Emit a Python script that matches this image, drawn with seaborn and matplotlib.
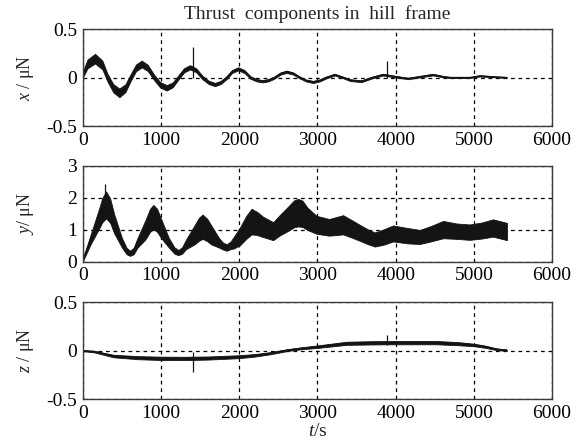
#!/usr/bin/env python3
"""
Thrust components in hill frame - three stacked panels (seaborn + matplotlib)
Usage: python plot.py
"""

import matplotlib
matplotlib.use("Agg")
import matplotlib.pyplot as plt
import matplotlib.ticker as mticker
import seaborn as sns
import pandas as pd

# ---- data (time in s, thrust in uN) ----
t_x = [0, 60, 157, 250, 315, 390, 468, 545, 612, 680, 753, 830, 913, 990,
       1073, 1150, 1222, 1295, 1370, 1450, 1530, 1610, 1690, 1765, 1840,
       1910, 1987, 2065, 2145, 2220, 2299, 2375, 2450, 2530, 2605, 2690,
       2775, 2860, 2945, 3030, 3110, 3222, 3330, 3420, 3563, 3700, 3840,
       3990, 4160, 4320, 4478, 4600, 4700, 4950, 5074, 5200, 5420]
x_mid = [0.03, 0.14, 0.195, 0.13, 0.0, -0.11, -0.158, -0.11, 0.0, 0.10,
         0.14, 0.10, 0.0, -0.075, -0.106, -0.075, 0.0, 0.075, 0.106, 0.075,
         0.0, -0.05, -0.072, -0.05, 0.0, 0.063, 0.09, 0.063, 0.0, -0.027,
         -0.038, -0.027, 0.0, 0.042, 0.06, 0.042, 0.0, -0.032, -0.045,
         -0.03, 0.0, 0.03, 0.0, -0.027, -0.038, 0.0, 0.03, 0.01, -0.01,
         0.01, 0.03, 0.01, 0.0, 0.0, 0.017, 0.01, 0.0]
x_band = [0.03, 0.045, 0.05, 0.045, 0.04, 0.042, 0.045, 0.04, 0.035, 0.035,
          0.035, 0.032, 0.028, 0.028, 0.028, 0.025, 0.022, 0.022, 0.022,
          0.02, 0.018, 0.017, 0.017, 0.016, 0.015, 0.015, 0.016, 0.015,
          0.013, 0.012, 0.012, 0.012, 0.011, 0.011, 0.012, 0.011, 0.01,
          0.01, 0.011, 0.01, 0.009, 0.009, 0.008, 0.009, 0.009, 0.008,
          0.009, 0.008, 0.007, 0.007, 0.008, 0.007, 0.005, 0.004, 0.006,
          0.005, 0.004]

t_y = [0, 100, 200, 250, 298, 350, 400, 500, 560, 604, 650, 700, 800, 860,
       902, 950, 1000, 1100, 1170, 1221, 1270, 1320, 1430, 1485, 1532, 1590,
       1640, 1740, 1790, 1839, 1890, 1930, 2010, 2090, 2158, 2230, 2300,
       2434, 2520, 2626, 2700, 2754, 2810, 2870, 2988, 3150, 3328, 3450,
       3541, 3650, 3733, 3850, 3967, 4150, 4308, 4450, 4606, 4780, 4946,
       5100, 5244, 5423]
y_mid = [0.05, 0.7, 1.3, 1.62, 1.78, 1.6, 1.2, 0.6, 0.34, 0.27, 0.34, 0.6,
         1.0, 1.3, 1.4, 1.3, 1.05, 0.6, 0.36, 0.29, 0.36, 0.55, 0.85, 1.02,
         1.1, 1.0, 0.85, 0.6, 0.5, 0.45, 0.52, 0.6, 0.8, 1.08, 1.26, 1.2,
         1.1, 0.96, 1.15, 1.35, 1.5, 1.54, 1.5, 1.35, 1.16, 1.08, 1.16, 1.02,
         0.91, 0.78, 0.70, 0.78, 0.89, 0.82, 0.78, 0.88, 1.01, 0.96, 0.93,
         0.98, 1.06, 0.95]
y_band = [0.03, 0.15, 0.3, 0.38, 0.42, 0.38, 0.3, 0.15, 0.1, 0.08, 0.1,
          0.15, 0.3, 0.36, 0.38, 0.36, 0.3, 0.15, 0.1, 0.08, 0.1, 0.15, 0.3,
          0.36, 0.38, 0.35, 0.3, 0.15, 0.11, 0.1, 0.12, 0.18, 0.28, 0.36,
          0.4, 0.36, 0.32, 0.28, 0.32, 0.38, 0.42, 0.43, 0.41, 0.35, 0.28,
          0.26, 0.3, 0.27, 0.25, 0.23, 0.22, 0.24, 0.25, 0.24, 0.22, 0.24,
          0.27, 0.24, 0.24, 0.25, 0.27, 0.27]

t_z = [0, 150, 391, 700, 1000, 1300, 1600, 2000, 2200, 2392, 2626, 2800,
       3000, 3372, 3700, 4000, 4521, 4800, 5000, 5150, 5287, 5420]
z_mid = [0.0, -0.01, -0.055, -0.072, -0.079, -0.08, -0.076, -0.062, -0.048,
         -0.027, 0.007, 0.025, 0.041, 0.076, 0.081, 0.083, 0.083, 0.072,
         0.059, 0.04, 0.015, 0.005]
z_band = [0.005, 0.008, 0.013, 0.016, 0.017, 0.017, 0.016, 0.015, 0.013,
          0.011, 0.009, 0.01, 0.013, 0.016, 0.017, 0.017, 0.017, 0.016,
          0.013, 0.011, 0.009, 0.007]

# isolated spikes: (time, from, to)
x_spikes = [(1410, 0.0, 0.32), (3885, 0.0, 0.17)]
y_spikes = [(290, 2.0, 2.42)]
z_spikes = [(1405, -0.01, -0.22), (3890, 0.06, 0.16)]

x_ticks = [0, 1000, 2000, 3000, 4000, 5000, 6000]
xz_yticks = [-0.5, 0, 0.5]
xz_yticklabels = ["-0.5", "0", "0.5"]
y_yticks = [0, 1, 2, 3]

title = "Thrust  components in  hill  frame"

# ---- style ----
sns.set_theme(style="white")
plt.rcParams["font.family"] = ["Liberation Serif", "DejaVu Serif"]
plt.rcParams["mathtext.fontset"] = "custom"
plt.rcParams["mathtext.rm"] = "Liberation Serif"
plt.rcParams["mathtext.it"] = "Liberation Serif:italic"

INK = "#141414"

fig = plt.figure(figsize=(5.83, 4.47), dpi=100)
L, W = 0.142, 0.805
ax1 = fig.add_axes([L, 0.718, W, 0.217])
ax2 = fig.add_axes([L, 0.414, W, 0.215])
ax3 = fig.add_axes([L, 0.107, W, 0.217])


def panel(ax, t, mid, band, spikes, ylim, yticks, yticklabels, ylabel):
    df = pd.DataFrame({"t": t, "v": mid, "b": band})
    ax.fill_between(df["t"], df["v"] - df["b"], df["v"] + df["b"],
                    color=INK, linewidth=0.6, edgecolor=INK)
    sns.lineplot(data=df, x="t", y="v", ax=ax, color=INK, linewidth=1.0)
    for ts, a, b in spikes:
        ax.vlines(ts, a, b, color=INK, linewidth=0.9)

    ax.set_xlim(0, 6000)
    ax.set_ylim(*ylim)
    ax.set_xticks(x_ticks)
    ax.set_yticks(yticks)
    ax.yaxis.set_major_formatter(mticker.FixedFormatter(yticklabels))
    ax.grid(True, color="black", linestyle=(0, (3, 3)), linewidth=0.9)
    ax.tick_params(length=0, labelsize=14, pad=4, colors="black")
    for s in ax.spines.values():
        s.set_color("#3a3a3a")
        s.set_linewidth(1.0)
    ax.set_xlabel("")
    ax.set_ylabel(ylabel, fontsize=13)
    ax.yaxis.set_label_coords(-0.10, 0.5)


panel(ax1, t_x, x_mid, x_band, x_spikes, (-0.5, 0.5), xz_yticks,
      xz_yticklabels, r"$x$ / μN")
panel(ax2, t_y, y_mid, y_band, y_spikes, (0, 3), y_yticks,
      [str(v) for v in y_yticks], r"$y$/ μN")
panel(ax3, t_z, z_mid, z_band, z_spikes, (-0.5, 0.5), xz_yticks,
      xz_yticklabels, r"$z$ / μN")

ax3.set_xlabel(r"$t$/s", fontsize=14, labelpad=1)

fig.text(0.544, 0.969, title, ha="center", va="center", fontsize=14)

plt.savefig("out.png", dpi=100)
print("Saved: out.png")
